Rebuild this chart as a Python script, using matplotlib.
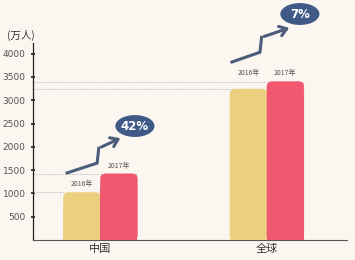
import matplotlib.pyplot as plt
from matplotlib.patches import FancyBboxPatch, Ellipse

plt.rcParams['font.family'] = ['Noto Sans CJK SC', 'DejaVu Sans']

categories = ['中国', '全球']
years = ['2016年', '2017年']
values_2016 = [1020, 3240]
values_2017 = [1420, 3400]
growth = ['42%', '7%']
yticks = [500, 1000, 1500, 2000, 2500, 3000, 3500, 4000]

bg = '#fcf6f0'
col_2016 = '#ecd07f'
col_2017 = '#f05870'
arrow_col = '#4b5d78'
oval_col = '#3f5a86'

fig = plt.figure(figsize=(3.55, 2.6), dpi=100, facecolor=bg)
ax = fig.add_axes([0.093, 0.077, 0.884, 0.758], facecolor=bg)
ax.set_xlim(-0.405, 1.48)
ax.set_ylim(0, 4230)

w = 0.222
# px -> data scale (x: 166.5 px/unit, y: 46.6 px per 1000)
asp = (1000 / 46.6) / (1 / 166.5)


def rbar(x, h, color):
    ax.add_patch(FancyBboxPatch((x - w / 2, 0), w, h,
                                boxstyle='round,pad=0,rounding_size=0.03',
                                mutation_aspect=asp, fc=color, ec=color, lw=0.3, zorder=3))
    ax.bar(x, h - 300, width=w, color=color, linewidth=0, zorder=3)


for i, cat in enumerate(categories):
    x1, x2 = i - w / 2, i + w / 2
    v1, v2 = values_2016[i], values_2017[i]
    rbar(x1, v1, col_2016)
    rbar(x2, v2, col_2017)
    # labels share a line when the bars are close in height
    l1 = max(v1, v2) if abs(v2 - v1) < 300 else v1
    ax.text(x1, l1 + 90, years[0], ha='center', va='bottom', fontsize=5, color='#555555')
    ax.text(x2, max(v1, v2) + 90, years[1], ha='center', va='bottom', fontsize=5, color='#555555')
    # guide lines
    ax.plot([-0.405, x1 - w / 2], [v1] * 2, ls=(0, (2, 1.5)), lw=0.6, color='#bbbbbb', zorder=2)
    ax.plot([-0.405, x2 + w / 2 if i == 0 else x2 - w / 2], [v2] * 2,
            ls=(0, (2, 1.5)), lw=0.6, color='#bbbbbb', zorder=2)

# growth arrows (zigzag) and ovals
arrow_pts = [
    [(-0.2, 1440), (-0.02, 1650), (-0.01, 1970), (0.135, 2210)],
    [(0.79, 3820), (0.958, 4030), (0.968, 4350), (1.15, 4570)],
]
ovals = [(0.207, 2446), (1.198, 4850)]
for pts, (ox, oy), g in zip(arrow_pts, ovals, growth):
    xs, ys = zip(*pts)
    ax.plot(xs[:-1], ys[:-1], color=arrow_col, lw=2.2, solid_joinstyle='miter', clip_on=False, zorder=4)
    ax.annotate('', xy=pts[-1], xytext=pts[-2],
                arrowprops=dict(arrowstyle='->,head_length=0.5,head_width=0.35', color=arrow_col, lw=2.2),
                annotation_clip=False, zorder=4)
    ax.add_patch(Ellipse((ox, oy), 0.235, 470, fc=oval_col, ec='none', clip_on=False, zorder=5))
    ax.text(ox, oy, g, ha='center', va='center', color='white', fontsize=8.5, fontweight='bold',
            family='DejaVu Sans', zorder=6)

ax.set_yticks(yticks)
ax.set_yticklabels([str(v) for v in yticks], fontsize=6.5, color='#555555', family='DejaVu Sans')
ax.set_xticks([0, 1])
ax.set_xticklabels(categories, fontsize=8, color='#333333')
ax.tick_params(axis='x', length=0, pad=3)
ax.tick_params(axis='y', length=2.5, width=1.2, color='#222222', pad=4, direction='inout')
for s in ['top', 'right']:
    ax.spines[s].set_visible(False)
ax.spines['left'].set_color('#222222')
ax.spines['bottom'].set_color('#555555')
ax.spines['left'].set_linewidth(0.9)
ax.spines['bottom'].set_linewidth(0.8)

fig.text(0.02, 0.865, '(万人)', fontsize=7.5, color='#333333', va='center')

fig.savefig('out.png', dpi=100, facecolor=bg)
